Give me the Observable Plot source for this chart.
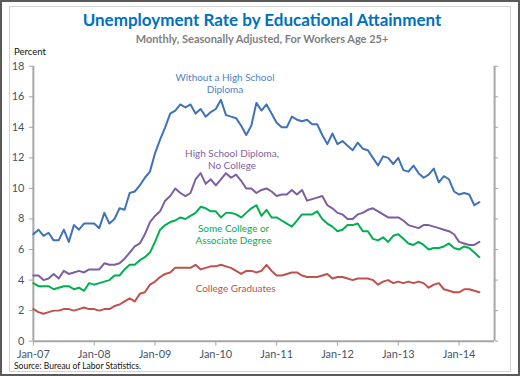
<!DOCTYPE html>
<html>
<head>
<meta charset="utf-8">
<script src="https://cdn.jsdelivr.net/npm/d3@7"></script>
<script src="https://cdn.jsdelivr.net/npm/@observablehq/plot@0.6"></script>
<style>
  html, body { margin: 0; padding: 0; background: #fff; }
  #wrap { position: relative; width: 520px; height: 376px; box-sizing: border-box; border: 2px solid #5a5a5a; overflow: hidden; font-family: Lato, "Open Sans", sans-serif; }
  #inner { position: absolute; left: 7px; top: 4px; width: 502px; height: 366px; border: 1px solid #d4d4d4; box-sizing: border-box; }
  #chart { position: absolute; left: -2px; top: -2px; }
  .t { position: absolute; left: 0; width: 520px; text-align: center; white-space: nowrap; }
  #title { top: 7px; font-size: 17px; font-weight: 700; color: #0070c0; }
  #subtitle { top: 30px; font-size: 11px; font-weight: 700; color: #7f7f7f; }
  #ylab { position: absolute; left: 12px; top: 44px; font-size: 9.5px; color: #111; }
  #source { position: absolute; left: 12px; top: 359px; font-size: 8.5px; color: #111; }
</style>
</head>
<body>
<div id="wrap">
  <div id="inner"></div>
  <div id="chart"></div>
  <div class="t" id="title">Unemployment Rate by Educational Attainment</div>
  <div class="t" id="subtitle">Monthly, Seasonally Adjusted, For Workers Age 25+</div>
  <div id="ylab">Percent</div>
  <div id="source">Source: Bureau of Labor Statistics.</div>
</div>
<script>
// Monthly values, Jan 2007 (index 0) through May 2014 (index 88)
const noHighSchool = [7.0,7.3,6.9,7.1,6.6,6.6,7.3,6.5,7.6,7.3,7.7,7.7,
  7.7,7.4,8.4,7.7,8.0,8.7,8.6,9.7,9.8,10.2,10.7,11.1,
  12.3,13.2,14.0,14.9,15.1,15.5,15.3,15.5,14.9,15.2,14.7,15.0,
  15.2,15.8,14.8,14.7,14.6,14.1,13.5,14.1,15.6,15.1,15.5,14.9,
  14.3,14.0,14.0,14.7,14.5,14.4,14.5,14.2,14.2,13.5,12.9,13.6,
  12.9,13.1,12.8,12.5,13.0,12.6,12.5,12.0,11.5,12.1,12.0,11.6,
  12.0,11.2,11.1,11.5,11.0,10.7,10.9,11.3,10.4,10.8,10.6,9.8,
  9.6,9.7,9.6,8.9,9.1];
const highSchool = [4.3,4.3,4.0,4.1,4.4,4.1,4.6,4.4,4.5,4.6,4.5,4.7,
  4.7,4.7,5.1,5.0,5.0,5.1,5.4,5.8,6.2,6.4,7.0,7.8,
  8.2,8.5,9.2,9.5,10.0,9.7,9.5,9.7,10.6,11.0,10.3,10.6,
  10.2,10.6,11.0,10.7,10.9,10.5,10.0,10.0,9.7,9.9,10.0,9.8,
  9.5,9.6,9.6,9.9,9.6,9.9,9.2,9.3,9.4,9.5,8.9,8.7,
  8.4,8.3,8.0,8.0,8.3,8.4,8.6,8.7,8.5,8.3,8.1,8.1,
  8.1,7.9,7.6,7.5,7.4,7.6,7.6,7.5,7.4,7.3,7.2,7.0,
  6.5,6.4,6.3,6.3,6.5];
const someCollege = [3.8,3.6,3.6,3.6,3.4,3.5,3.6,3.6,3.4,3.5,3.3,3.8,
  3.7,3.8,3.9,4.0,4.3,4.3,4.7,5.0,5.0,5.3,5.5,5.8,
  6.5,7.3,7.6,7.8,7.9,8.1,8.0,8.2,8.4,8.8,8.7,8.5,
  8.5,8.1,8.4,8.4,8.3,8.1,8.4,8.7,8.9,8.2,8.6,8.1,
  8.1,7.9,7.7,7.5,7.9,8.3,8.3,8.3,8.5,8.0,7.7,7.5,
  7.2,7.3,7.6,7.6,7.7,7.2,7.2,6.7,6.6,6.8,6.5,6.9,
  7.0,6.7,6.4,6.3,6.5,6.3,6.0,6.1,6.1,6.2,6.4,6.1,
  6.0,6.2,6.1,5.8,5.5];
const collegeGrads = [2.1,1.9,1.8,1.9,2.0,2.0,2.1,2.1,2.0,2.1,2.2,2.1,
  2.1,2.0,2.1,2.1,2.3,2.4,2.6,2.8,2.6,3.1,3.2,3.7,
  3.9,4.2,4.4,4.5,4.8,4.8,4.8,4.8,5.0,4.7,4.8,4.9,
  4.9,5.0,4.9,4.8,4.6,4.4,4.6,4.6,4.5,4.6,5.0,4.6,
  4.3,4.3,4.4,4.5,4.5,4.3,4.2,4.2,4.2,4.3,4.4,4.1,
  4.2,4.2,4.1,4.0,4.1,4.1,4.1,4.0,3.7,3.9,4.0,3.8,
  3.9,3.8,3.9,3.8,3.9,3.8,3.5,3.7,3.8,3.4,3.3,3.2,
  3.2,3.4,3.4,3.3,3.2];

const seriesNames = ["Without a High School\nDiploma", "High School Diploma,\nNo College", "Some College or\nAssociate Degree", "College Graduates"];
const seriesValues = [noHighSchool, highSchool, someCollege, collegeGrads];
const lineColors = ["#3f72b8", "#7b5ea3", "#00b050", "#c0504d"];
const labelColors = ["#4f81c7", "#8064a2", "#00b050", "#c0504d"];

const xTickIndex = [0, 12, 24, 36, 48, 60, 72, 84];
const xTickLabels = ["Jan-07", "Jan-08", "Jan-09", "Jan-10", "Jan-11", "Jan-12", "Jan-13", "Jan-14"];
const yTicks = [0, 2, 4, 6, 8, 10, 12, 14, 16, 18];

// label anchor positions (month index, percent)
const labelX = [37.8, 39.2, 39.5, 39.9];
const labelY = [16.9, 11.9, 7.0, 3.5];

const rows = [];
seriesValues.forEach((vals, s) => vals.forEach((v, i) => rows.push({s, i, v})));
const labels = seriesNames.map((name, s) => ({name, s, x: labelX[s], y: labelY[s]}));

const axisGray = "#a6a6a6";
const tickText = "#44546a";

const chart = Plot.plot({
  width: 520,
  height: 376,
  marginLeft: 33,
  marginRight: 24,
  marginTop: 66,
  marginBottom: 34,
  style: {fontFamily: "Lato, 'Open Sans', sans-serif", background: "transparent"},
  x: {type: "linear", domain: [0, 91]},
  y: {domain: [0, 18]},
  color: {type: "ordinal", domain: [0, 1, 2, 3], range: lineColors},
  marks: [
    Plot.ruleX([0, 91], {stroke: axisGray, strokeWidth: 2, y1: 0, y2: 18}),
    Plot.ruleY([0], {stroke: axisGray, strokeWidth: 2, x1: 0, x2: 91}),
    Plot.axisY({ticks: yTicks, tickSize: 4, tickPadding: 5, fontSize: 11, stroke: axisGray, fill: tickText, label: null}),
    Plot.axisY({anchor: "right", ticks: yTicks, tickSize: 3, tickFormat: () => "", stroke: axisGray, label: null}),
    Plot.axisX({ticks: xTickIndex, tickSize: 5, tickPadding: 4, fontSize: 11, stroke: axisGray, fill: tickText,
      tickFormat: d => xTickLabels[xTickIndex.indexOf(d)], label: null}),
    Plot.line(rows, {x: "i", y: "v", z: "s", stroke: "s", strokeWidth: 2, strokeLinejoin: "round"}),
    Plot.text(labels, {x: "x", y: "y", text: "name", fill: d => labelColors[d.s], fontSize: 10, lineHeight: 1.2, textAnchor: "middle"})
  ]
});
document.getElementById("chart").appendChild(chart);
</script>
</body>
</html>
